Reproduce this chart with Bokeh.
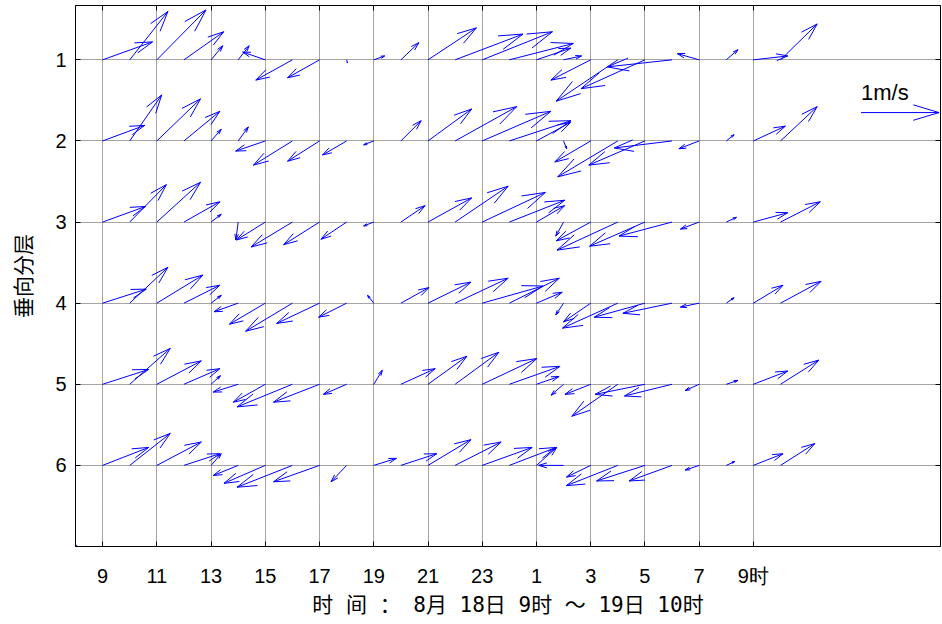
import numpy as np
from bokeh.plotting import figure
from bokeh.models import Range1d, FixedTicker, LinearAxis, Label
from bokeh.embed import file_html
from bokeh.resources import INLINE

# time points: hours from 9h on Aug 18 to 10h on Aug 19 (hour 9 .. 34)
hours = list(range(9, 35))
layers = [1, 2, 3, 4, 5, 6]

# eastward (u) and northward (v) current, m/s, per layer
u_l1 = [0.64, 0.49, 0.63, 0.51, 0.15, 0.14, -0.29, -0.47, -0.41, 0.01, 0.14, 0.23, 0.62,
        0.87, 0.90, 0.82, 0.44, 0.23, -0.51, -0.79, -0.82, -0.83, -0.28, 0.15, 0.44, 0.47]
v_l1 = [0.23, 0.62, 0.64, 0.36, 0.18, 0.18, 0.10, -0.26, -0.23, -0.04, 0.05, 0.22, 0.41,
        0.33, 0.36, 0.21, 0.15, 0.05, -0.26, -0.53, -0.37, -0.09, 0.08, 0.13, 0.05, 0.46]
u_l2 = [0.54, 0.41, 0.56, 0.46, 0.13, 0.13, -0.38, -0.50, -0.41, -0.31, -0.13, 0.26, 0.56,
        0.79, 0.88, 0.79, 0.44, 0.04, -0.46, -0.77, -0.72, -0.74, -0.26, 0.10, 0.41, 0.47]
v_l2 = [0.20, 0.59, 0.54, 0.38, 0.15, 0.18, -0.13, -0.31, -0.26, -0.18, -0.05, 0.26, 0.41,
        0.44, 0.38, 0.26, 0.24, -0.10, -0.27, -0.46, -0.31, -0.09, -0.10, 0.08, 0.19, 0.44]
u_l3 = [0.55, 0.47, 0.56, 0.46, 0.13, -0.03, -0.37, -0.53, -0.46, -0.33, -0.13, 0.31, 0.56,
        0.68, 0.81, 0.71, 0.36, -0.10, -0.44, -0.78, -0.71, -0.68, -0.24, 0.13, 0.44, 0.51]
v_l3 = [0.20, 0.48, 0.51, 0.26, 0.10, -0.23, -0.23, -0.32, -0.29, -0.22, -0.05, 0.21, 0.31,
        0.46, 0.38, 0.28, 0.21, -0.18, -0.24, -0.36, -0.31, -0.18, -0.09, 0.06, 0.12, 0.26]
u_l4 = [0.56, 0.49, 0.59, 0.46, 0.13, -0.31, -0.46, -0.60, -0.55, -0.36, -0.08, 0.36, 0.55,
        0.68, 0.78, 0.64, 0.33, -0.10, -0.35, -0.71, -0.65, -0.63, -0.24, 0.10, 0.38, 0.52]
v_l4 = [0.18, 0.46, 0.36, 0.23, 0.10, -0.11, -0.27, -0.36, -0.26, -0.18, 0.10, 0.20, 0.27,
        0.32, 0.22, 0.32, 0.14, -0.15, -0.24, -0.32, -0.18, -0.13, -0.05, 0.07, 0.23, 0.28]
u_l5 = [0.59, 0.52, 0.57, 0.46, 0.12, -0.32, -0.41, -0.71, -0.59, -0.30, 0.11, 0.44, 0.50,
        0.56, 0.70, 0.65, 0.29, -0.16, -0.33, -0.59, -0.64, -0.61, -0.18, 0.15, 0.44, 0.49]
v_l5 = [0.19, 0.46, 0.30, 0.20, 0.11, -0.10, -0.23, -0.29, -0.23, -0.13, 0.18, 0.20, 0.36,
        0.41, 0.33, 0.23, 0.10, -0.14, -0.13, -0.41, -0.13, -0.15, -0.08, 0.05, 0.17, 0.31]
u_l6 = [0.59, 0.52, 0.57, 0.46, 0.13, -0.32, -0.53, -0.71, -0.59, -0.20, 0.29, 0.46, 0.55,
        0.59, 0.64, 0.60, 0.26, -0.32, -0.31, -0.66, -0.62, -0.55, -0.18, 0.11, 0.38, 0.44]
v_l6 = [0.23, 0.41, 0.30, 0.15, 0.15, -0.13, -0.23, -0.28, -0.21, -0.21, 0.09, 0.15, 0.33,
        0.30, 0.23, 0.23, 0.23, 0.00, -0.15, -0.26, -0.20, -0.20, -0.06, 0.05, 0.15, 0.28]

u_all = [u_l1, u_l2, u_l3, u_l4, u_l5, u_l6]
v_all = [v_l1, v_l2, v_l3, v_l4, v_l5, v_l6]

x_ticks = [9, 11, 13, 15, 17, 19, 21, 23, 25, 27, 29, 31, 33]
x_tick_labels = ["9", "11", "13", "15", "17", "19", "21", "23", "1", "3", "5", "7", "9时"]
y_ticks = [1, 2, 3, 4, 5, 6]
y_tick_labels = ["1", "2", "3", "4", "5", "6"]

ref_speed = 1.0
ref_label = "1m/s"

# ---- layout ----
W, H = 942, 624
BL, BR, BT, BB = 75, 2, 5, 78
X0, X1 = 8.0, 39.9
Y0, Y1 = 0.33, 7.0
FW, FH = W - BL - BR, H - BT - BB
PXX = FW / (X1 - X0)
PXY = FH / (Y1 - Y0)
PX_PER_MS = 78.0
ALPHA, BETA = 0.33, 0.30


def arrow(x, y, u, v):
    dx, dy = u * PX_PER_MS, v * PX_PER_MS  # pixels, dy upward
    b1x = dx - ALPHA * (dx + BETA * dy)
    b1y = dy - ALPHA * (dy - BETA * dx)
    b2x = dx - ALPHA * (dx - BETA * dy)
    b2y = dy - ALPHA * (dy + BETA * dx)
    tx = lambda px: x + px / PXX
    ty = lambda py: y - py / PXY
    shaft = ([x, tx(dx)], [y, ty(dy)])
    head = ([tx(b1x), tx(dx), tx(b2x)], [ty(b1y), ty(dy), ty(b2y)])
    return [shaft, head]


xs, ys = [], []
for layer, us, vs in zip(layers, u_all, v_all):
    for h, u, v in zip(hours, us, vs):
        for seg in arrow(h, layer, u, v):
            xs.append(seg[0])
            ys.append(seg[1])

p = figure(width=W, height=H, x_range=Range1d(X0, X1), y_range=Range1d(Y1, Y0),
           output_backend="svg", toolbar_location=None,
           min_border_left=BL, min_border_right=BR, min_border_top=BT, min_border_bottom=BB)
p.background_fill_color = "white"
p.border_fill_color = "white"
p.outline_line_color = "black"
p.outline_line_width = 1

p.multi_line(xs, ys, line_color="#0000FF", line_width=1)

# reference arrow
ref_x, ref_y = 36.97, 1.65
rx, ry = [], []
for seg in arrow(ref_x, ref_y, ref_speed, 0.0):
    rx.append(seg[0])
    ry.append(seg[1])
p.multi_line(rx, ry, line_color="#0000FF", line_width=1)
p.add_layout(Label(x=ref_x, y=1.40, text=ref_label, text_font="Liberation Sans",
                   text_font_size="22px", text_color="black", text_baseline="alphabetic"))
p.scatter([X0], [Y1], size=3, color="#0000FF")

tick_font = "Liberation Sans"
for ax in p.xaxis:
    ax.ticker = FixedTicker(ticks=x_ticks)
    ax.major_label_overrides = {t: l for t, l in zip(x_ticks, x_tick_labels)}
for ax in p.yaxis:
    ax.ticker = FixedTicker(ticks=y_ticks)
    ax.major_label_overrides = {t: l for t, l in zip(y_ticks, y_tick_labels)}

for ax in p.xaxis + p.yaxis:
    ax.major_tick_in = 5
    ax.major_tick_out = 0
    ax.minor_tick_line_color = None
    ax.axis_line_color = "black"
    ax.major_tick_line_color = "black"
    ax.major_label_text_font = tick_font
    ax.major_label_text_font_size = "20px"
    ax.major_label_text_color = "black"
    ax.axis_label_text_font = "'DejaVu Sans Mono', 'Noto Sans CJK SC'"
    ax.axis_label_text_font_size = "21px"
    ax.axis_label_text_font_style = "normal"
    ax.axis_label_text_color = "black"

p.xaxis.major_label_standoff = 18
p.xaxis.axis_label = "时 间 ： 8月 18日 9时 ～ 19日 10时"
p.xaxis.axis_label_standoff = 3
p.yaxis.major_label_standoff = 9
p.yaxis.axis_label = "垂向分层"
p.yaxis.axis_label_standoff = 16

top = LinearAxis(ticker=FixedTicker(ticks=x_ticks), major_tick_in=5, major_tick_out=0,
                 minor_tick_line_color=None, major_label_text_font_size="0px",
                 major_label_standoff=0, axis_line_color="black")
right = LinearAxis(ticker=FixedTicker(ticks=y_ticks), major_tick_in=5, major_tick_out=0,
                   minor_tick_line_color=None, major_label_text_font_size="0px",
                   major_label_standoff=0, axis_line_color="black")
p.add_layout(top, "above")
p.add_layout(right, "right")

p.xgrid.ticker = FixedTicker(ticks=x_ticks)
p.ygrid.ticker = FixedTicker(ticks=y_ticks)
for g in (p.xgrid, p.ygrid):
    g.grid_line_color = "#4a4a4a"
    g.grid_line_dash = "1 1"
    g.grid_line_width = 1

open("out.html", "w").write(file_html(p, INLINE))
